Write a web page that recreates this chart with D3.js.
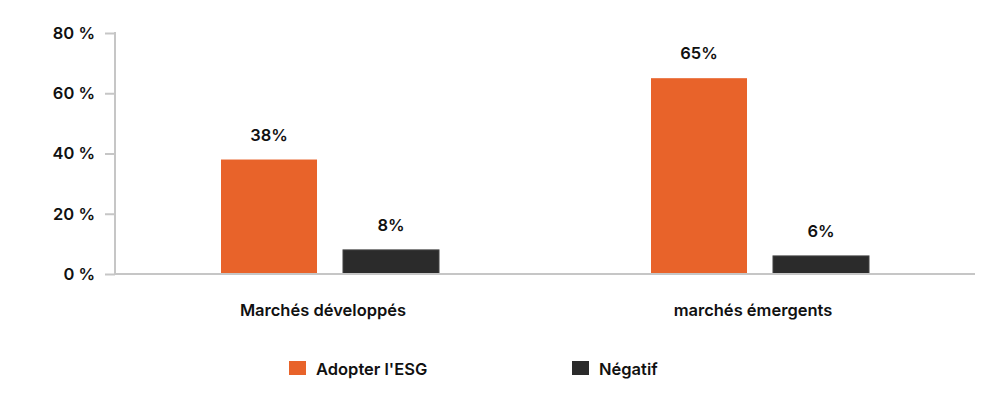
<!DOCTYPE html>
<html>
<head>
<meta charset="utf-8">
<script src="https://cdn.jsdelivr.net/npm/d3@7"></script>
<style>
  body { margin: 0; background: #fff; }
  text { font-family: Inter, "Noto Sans", sans-serif; font-weight: 600; fill: #111; }
</style>
</head>
<body>
<div class="svg-container"></div>
<script>
var categories = ["Marchés développés", "marchés émergents"];
var series = ["Adopter l'ESG", "Négatif"];
var adopter = [38, 65];
var negatif = [8, 6];
var yTicks = [0, 20, 40, 60, 80];
var colors = ["#e8632a", "#2b2b2b"];

var width = 1000;
var height = 397;
var plotLeft = 115, plotRight = 975, plotTop = 33, plotBottom = 274;

var svg = d3.select(".svg-container").append("svg")
  .attr("width", width)
  .attr("height", height);

// Y
var y = d3.scaleLinear().domain([0, 80]).range([plotBottom, plotTop]);

var yAxis = svg.append("g")
  .attr("transform", "translate(" + plotLeft + ",0)")
  .call(d3.axisLeft(y).tickValues(yTicks).tickSize(10).tickPadding(10).tickFormat(function(d) { return d + " %"; }));
yAxis.select(".domain").remove();
yAxis.selectAll(".tick line").attr("stroke", "#c6c6c6").attr("stroke-width", 2);
yAxis.selectAll(".tick text").style("font-size", "16.5px").attr("fill", "#111");

svg.append("line")
  .attr("x1", plotLeft).attr("x2", plotLeft)
  .attr("y1", plotTop - 1).attr("y2", plotBottom)
  .attr("stroke", "#c6c6c6").attr("stroke-width", 2);

// X
var x0 = d3.scaleBand().domain(categories).range([plotLeft, plotRight]);
var x1 = d3.scaleBand().domain(series).range([106, 324]).paddingInner(0.213);

var rows = categories.map(function(c, i) {
  return { cat: c, vals: [ { s: series[0], v: adopter[i] }, { s: series[1], v: negatif[i] } ] };
});

var groups = svg.selectAll(".grp").data(rows).enter().append("g")
  .attr("class", "grp")
  .attr("transform", function(d) { return "translate(" + x0(d.cat) + ",0)"; });

groups.selectAll("rect").data(function(d) { return d.vals; }).enter().append("rect")
  .attr("x", function(d) { return x1(d.s); })
  .attr("y", function(d) { return y(d.v); })
  .attr("width", x1.bandwidth())
  .attr("height", function(d) { return y(0) - y(d.v); })
  .attr("fill", function(d, i) { return colors[i]; })
  .attr("stroke", function(d, i) { return i == 1 ? "#444" : "none"; })
  .attr("stroke-width", 1);

groups.selectAll(".val").data(function(d) { return d.vals; }).enter().append("text")
  .attr("class", "val")
  .attr("x", function(d) { return x1(d.s) + x1.bandwidth() / 2; })
  .attr("y", function(d) { return y(d.v) - 19; })
  .style("text-anchor", "middle")
  .style("font-size", "16.5px")
  .text(function(d) { return d.v + "%"; });

// baseline
svg.append("line")
  .attr("x1", plotLeft).attr("x2", plotRight)
  .attr("y1", plotBottom).attr("y2", plotBottom)
  .attr("stroke", "#c6c6c6").attr("stroke-width", 2);

// category labels
svg.selectAll(".cat").data(categories).enter().append("text")
  .attr("class", "cat")
  .attr("x", function(d) { return x0(d) + x0.bandwidth() / 2 - 7; })
  .attr("y", 316)
  .style("text-anchor", "middle")
  .style("font-size", "16.5px")
  .text(function(d) { return d; });

// Legend
var legendX = [289, 572];
var legend = svg.selectAll(".leg").data(series).enter().append("g")
  .attr("class", "leg")
  .attr("transform", function(d, i) { return "translate(" + legendX[i] + ",361)"; });
legend.append("rect")
  .attr("width", 17).attr("height", 14)
  .attr("fill", function(d, i) { return colors[i]; });
legend.append("text")
  .attr("x", 27).attr("y", 13.5)
  .style("font-size", "16.5px")
  .text(function(d) { return d; });
</script>
</body>
</html>
